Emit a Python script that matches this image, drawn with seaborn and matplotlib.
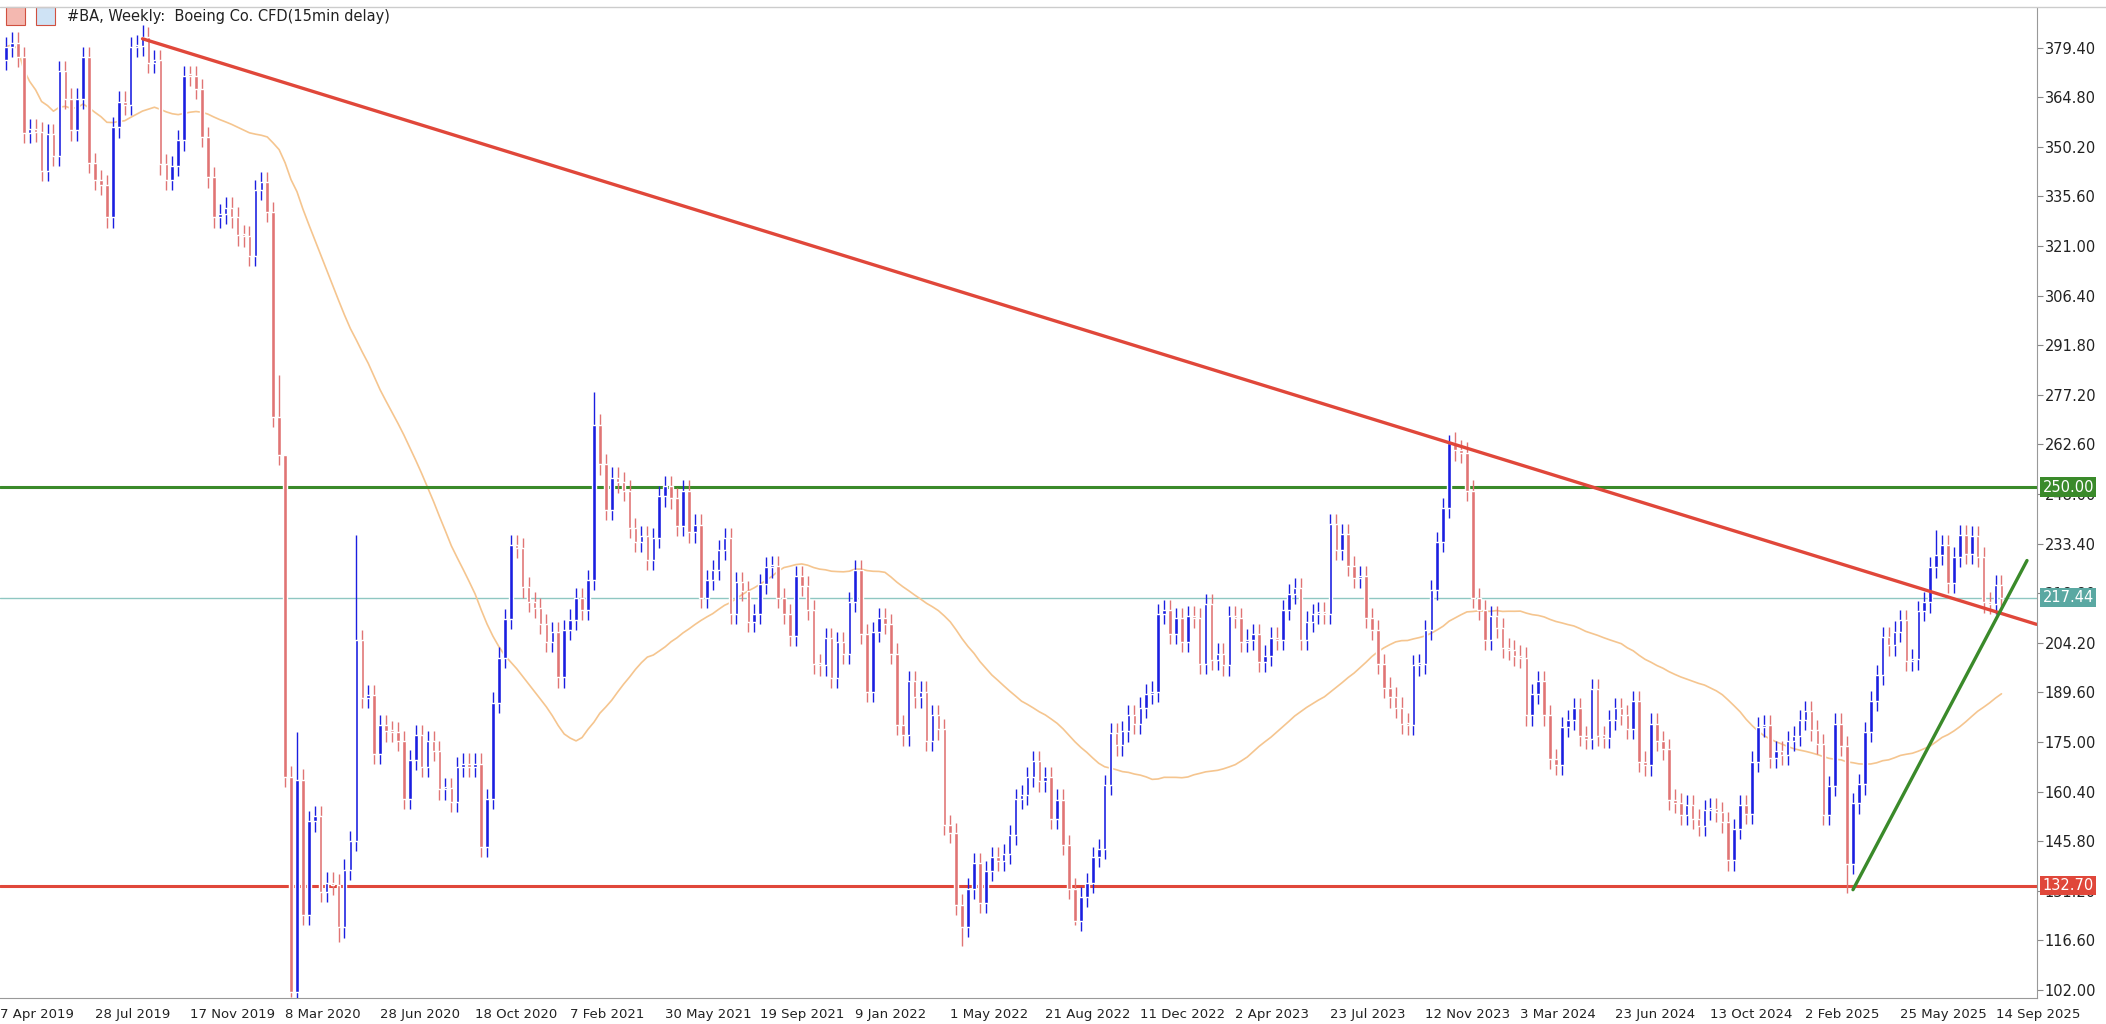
import matplotlib
matplotlib.use("Agg")
import matplotlib.pyplot as plt
import matplotlib.transforms as mtransforms
import seaborn as sns
import numpy as np
import pandas as pd

# weekly closes, first bar = week of 14 Apr 2019
first_week = "2019-04-14"
first_open = 375.8
closes = [
    379.6, 380.9, 376.7, 354.4, 355.5, 354.6, 343.0, 354.0, 347.4, 372.6,
    364.4, 355.0, 364.4, 376.7, 345.5, 340.4, 338.9, 329.4, 355.9, 363.5,
    362.5, 379.6, 380.0, 382.4, 374.8, 375.8, 345.0, 340.4, 344.6, 352.1,
    371.1, 371.0, 367.3, 353.1, 341.2, 329.4, 330.4, 332.3, 329.4, 324.1,
    323.8, 318.1, 337.4, 339.8, 331.0, 270.8, 259.4, 164.8, 101.5, 163.9,
    124.1, 151.6, 153.1, 130.8, 133.6, 133.0, 120.4, 137.4, 145.9, 204.9,
    187.9, 188.8, 171.4, 180.0, 178.1, 178.0, 175.2, 158.2, 169.6, 177.1,
    167.7, 175.2, 172.4, 161.0, 161.5, 157.3, 167.7, 168.6, 167.7, 168.6,
    144.0, 158.2, 186.6, 199.8, 211.2, 233.0, 232.0, 220.5, 216.2, 214.5,
    209.8, 204.5, 207.4, 194.0, 208.0, 211.0, 217.4, 213.9, 222.7, 268.4,
    256.7, 243.2, 252.8, 251.4, 249.0, 238.0, 233.8, 235.6, 228.5, 235.0,
    247.3, 250.2, 246.7, 238.5, 249.0, 236.7, 239.0, 217.4, 222.7, 225.6,
    231.5, 235.0, 212.7, 222.1, 219.5, 210.4, 212.7, 221.5, 226.4, 226.8,
    217.4, 212.7, 206.2, 223.8, 220.9, 213.9, 198.0, 197.5, 205.6, 193.9,
    204.5, 201.0, 216.2, 225.6, 206.8, 189.8, 207.4, 211.5, 209.8, 201.0,
    179.9, 176.9, 192.8, 188.1, 189.8, 175.2, 182.8, 178.7, 150.5, 148.2,
    127.1, 120.6, 131.8, 139.4, 127.7, 137.0, 141.1, 140.0, 142.0, 147.6,
    158.2, 159.4, 164.6, 169.3, 163.4, 164.6, 152.3, 158.0, 144.7, 131.8,
    122.4, 129.4, 133.5, 141.1, 143.5, 162.3, 177.5, 174.0, 178.1, 182.8,
    180.4, 185.1, 189.2, 189.8, 212.7, 213.9, 206.8, 211.5, 204.5, 212.1,
    211.5, 198.0, 215.6, 199.2, 201.0, 197.5, 212.1, 211.5, 204.5, 205.1,
    206.8, 198.6, 200.4, 205.7, 205.1, 213.9, 218.6, 220.3, 205.1, 210.4,
    212.7, 213.3, 212.7, 239.1, 231.5, 236.2, 226.8, 223.3, 223.8, 211.5,
    208.0, 198.0, 191.0, 188.1, 185.1, 180.4, 179.9, 197.5, 197.9, 208.0,
    219.7, 233.8, 243.8, 263.1, 260.8, 260.2, 249.0, 217.4, 213.9, 205.1,
    212.1, 208.6, 202.7, 202.1, 200.4, 199.8, 182.8, 189.2, 192.8, 182.8,
    169.9, 168.2, 179.4, 181.4, 185.0, 176.8, 175.8, 190.6, 176.8, 176.3,
    181.4, 185.0, 183.0, 178.9, 187.0, 169.2, 168.1, 180.4, 175.3, 172.8,
    158.0, 157.0, 153.4, 156.4, 152.3, 150.3, 154.9, 155.4, 154.4, 151.3,
    140.1, 149.3, 156.4, 153.8, 169.2, 179.4, 179.9, 170.2, 172.2, 171.2,
    175.3, 176.8, 181.4, 184.0, 178.4, 174.3, 153.4, 162.0, 180.4, 173.8,
    139.0, 156.9, 162.5, 177.9, 187.0, 194.7, 205.9, 203.4, 207.5, 210.9,
    198.8, 199.3, 213.6, 216.1, 226.4, 230.0, 233.0, 221.8, 229.4, 236.0,
    230.4, 235.5, 229.4, 216.1, 215.6, 221.2, 217.44,
]
# a few wick extremes that stick out on the chart (bar index -> high/low)
wick_highs = {23: 386.0, 46: 283.0, 47: 240.5, 49: 178.0, 59: 236.0, 99: 278.0,
              243: 265.5, 325: 237.5}
wick_lows = {48: 99.8, 56: 116.0, 161: 115.0, 180: 121.0, 310: 130.5}
wick_len = 3.0

ma_period = 50
resistance = 250.00
support = 132.70
last_price = 217.44
# trend lines: (bar index, price) anchors
down_trend = [(23, 382.0), (245, 262.0)]
up_trend = [(311, 131.5), (340.3, 228.4)]

yticks = [379.40, 364.80, 350.20, 335.60, 321.00, 306.40, 291.80, 277.20, 262.60,
          248.00, 233.40, 218.80, 204.20, 189.60, 175.00, 160.40, 145.80, 131.20,
          116.60, 102.00]
xtick_dates = ["2019-04-07", "2019-07-28", "2019-11-17", "2020-03-08", "2020-06-28",
               "2020-10-18", "2021-02-07", "2021-05-30", "2021-09-19", "2022-01-09",
               "2022-05-01", "2022-08-21", "2022-12-11", "2023-04-02", "2023-07-23",
               "2023-11-12", "2024-03-03", "2024-06-23", "2024-10-13", "2025-02-02",
               "2025-05-25", "2025-09-14"]

BLUE = "#1a1ee0"
RED = "#e07474"

df = pd.DataFrame({"close": closes})
df["open"] = [first_open] + closes[:-1]
df["high"] = df[["open", "close"]].max(axis=1) + wick_len
df["low"] = df[["open", "close"]].min(axis=1) - wick_len
for k, v in wick_highs.items():
    df.loc[k, "high"] = v
for k, v in wick_lows.items():
    df.loc[k, "low"] = v
df["x"] = np.arange(len(df))
df["ma"] = df["close"].rolling(ma_period, min_periods=1).mean()
up = df["close"] >= df["open"]

sns.set_style("white")
plt.rcParams["font.family"] = ["DejaVu Sans"]
fig = plt.figure(figsize=(21.06, 10.24), dpi=100)
ax = fig.add_axes([0.0, 0.025, 0.967, 0.967])

# moving average
sns.lineplot(data=df, x="x", y="ma", color="#f5c58f", linewidth=1.2, ax=ax)

# candles
colors = np.where(up, BLUE, RED)
ax.vlines(df["x"], df["low"], df["high"], colors=colors, linewidth=1.0, zorder=3)
body_lo = df[["open", "close"]].min(axis=1)
body_h = (df["close"] - df["open"]).abs().clip(lower=0.6)
ax.bar(df["x"], body_h, bottom=body_lo, width=0.6, color=colors, zorder=4)

# horizontal levels
ax.axhline(resistance, color="#3a8a2a", linewidth=2.2, zorder=2)
ax.axhline(support, color="#e0473a", linewidth=2.2, zorder=2)
ax.axhline(last_price, color="#8fc7c2", linewidth=1.0, zorder=1)

xmin, xmax = -0.9, 341.9
# descending trend line, extended to the right edge
(x0, y0), (x1, y1) = down_trend
slope = (y1 - y0) / (x1 - x0)
ax.plot([x0, xmax], [y0, y0 + slope * (xmax - x0)], color="#e0473a", linewidth=2.4, zorder=5)
(x0, y0), (x1, y1) = up_trend
ax.plot([x0, x1], [y0, y1], color="#3a8a2a", linewidth=2.4, zorder=5)

ax.set_xlim(xmin, xmax)
ax.set_ylim(99.5, 391.0)

# axes look
ax.yaxis.tick_right()
ax.set_yticks(yticks)
ax.set_yticklabels([f"{v:.2f}" for v in yticks], fontsize=10.5, color="#222222")
start = pd.Timestamp(first_week)
xt = [(pd.Timestamp(d) - start).days / 7 for d in xtick_dates]
ax.set_xticks(xt)
ax.set_xticklabels([f"{pd.Timestamp(d).day} {pd.Timestamp(d):%b %Y}" for d in xtick_dates],
                   fontsize=9.5, color="#222222", ha="left")
ax.tick_params(axis="both", length=4, color="#888888", direction="out", pad=2)
ax.tick_params(axis="x", pad=3)
for side in ["left", "top"]:
    ax.spines[side].set_visible(False)
ax.spines["right"].set_color("#999999")
ax.spines["bottom"].set_color("#999999")
ax.set_xlabel("")
ax.set_ylabel("")

# price labels on the axis
trans = mtransforms.blended_transform_factory(ax.transAxes, ax.transData)
for val, bg in [(resistance, "#3a8a2a"), (last_price, "#5aa8a2"), (support, "#e0473a")]:
    ax.text(1.003, val, f"{val:.2f}", transform=trans, fontsize=10.5, color="white",
            va="center", ha="left", zorder=10,
            bbox=dict(boxstyle="square,pad=0.15", facecolor=bg, edgecolor="none"))

fig.text(0.032, 0.984, "#BA, Weekly:  Boeing Co. CFD(15min delay)", fontsize=10.5,
         color="#222222", va="center", ha="left")
fig.add_artist(plt.Rectangle((0.003, 0.976), 0.009, 0.017, transform=fig.transFigure,
                             facecolor="#f4b8b0", edgecolor="#d05040", linewidth=0.8))
fig.add_artist(plt.Rectangle((0.017, 0.976), 0.009, 0.017, transform=fig.transFigure,
                             facecolor="#cfe3f5", edgecolor="#d05040", linewidth=0.8))
fig.add_artist(plt.Line2D([0, 1], [0.993, 0.993], transform=fig.transFigure,
                          color="#cccccc", linewidth=1))

fig.savefig("out.png", dpi=100)
